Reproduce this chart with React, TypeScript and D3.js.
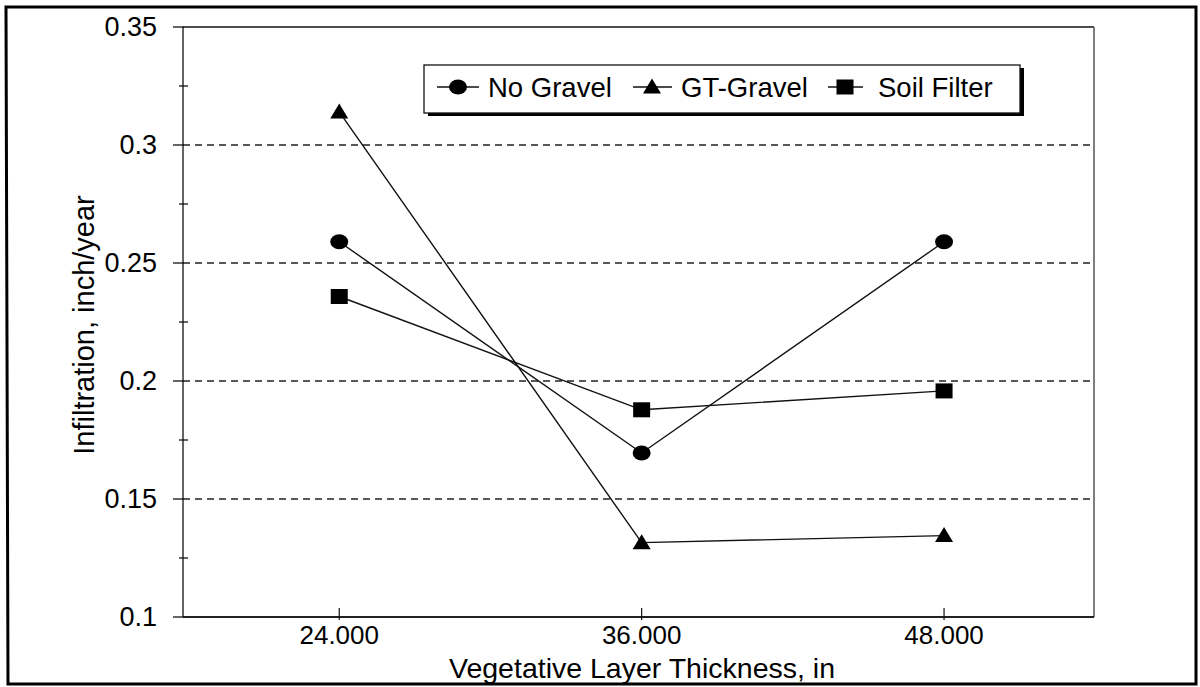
import React from "react";
import * as d3 from "d3";

const thickness = [24, 36, 48];
const xTickLabels = ["24.000", "36.000", "48.000"];
const noGravel = [0.259, 0.1695, 0.259];
const gtGravel = [0.314, 0.1315, 0.1345];
const soilFilter = [0.2358, 0.1878, 0.1958];
const yTicks = [0.1, 0.15, 0.2, 0.25, 0.3, 0.35];
const yTickLabels = ["0.1", "0.15", "0.2", "0.25", "0.3", "0.35"];
const yMinorTicks = [0.125, 0.175, 0.225, 0.275, 0.325];
const gridValues = [0.15, 0.2, 0.25, 0.3];

const seriesNames = ["No Gravel", "GT-Gravel", "Soil Filter"];
const seriesValues = [noGravel, gtGravel, soilFilter];
const seriesMarkers = ["circle", "triangle", "square"];

const FONT = "'Liberation Sans', Arial, sans-serif";

function Marker({ type, x, y }: { type: string; x: number; y: number }) {
  if (type === "circle") return <ellipse cx={x} cy={y} rx={9} ry={7.5} fill="#000" />;
  if (type === "square") return <rect x={x - 8.5} y={y - 7.5} width={17} height={15} fill="#000" />;
  return <path d={`M${x},${y - 8.5} L${x + 9},${y + 6.5} L${x - 9},${y + 6.5} Z`} fill="#000" />;
}

export default function App() {
  const W = 1200, H = 687;
  const left = 183, right = 1094, top = 27, bottom = 617;
  const x = d3.scaleLinear().domain([17.8, 53.95]).range([left, right]);
  const y = d3.scaleLinear().domain([0.1, 0.35]).range([bottom, top]);
  const line = d3.line<number>().x((_, i) => x(thickness[i])).y((d) => y(d));

  const legendItems = [
    { mx: 458, tx: 488, l1: 437, l2: 479 },
    { mx: 652, tx: 681, l1: 633, l2: 672 },
    { mx: 845, tx: 878, l1: 828, l2: 863 },
  ];

  return (
    <svg width={W} height={H} style={{ position: "absolute", left: 0, top: 0, background: "#fff" }} fontFamily={FONT}>
      <rect x={0} y={0} width={W} height={H} fill="#fff" />
      {/* outer frame */}
      <path d={`M8,684 L6,7 L1196,7 L1196,684 Z`} fill="none" stroke="#000" strokeWidth={3} />

      {/* gridlines */}
      {gridValues.map((v) => (
        <line key={v} x1={left} x2={right} y1={y(v)} y2={y(v)} stroke="#222" strokeWidth={1.3} strokeDasharray="7,5" />
      ))}

      {/* plot frame */}
      <line x1={left} x2={right} y1={top} y2={top} stroke="#111" strokeWidth={1.3} />
      <line x1={right} x2={right} y1={top} y2={bottom} stroke="#555" strokeWidth={1.5} />
      <line x1={left} x2={left} y1={top} y2={bottom} stroke="#111" strokeWidth={1.3} />
      <line x1={left} x2={right} y1={bottom} y2={bottom} stroke="#222" strokeWidth={1.8} />

      {/* y ticks */}
      {yTicks.map((v, i) => (
        <g key={v}>
          <line x1={left - 10} x2={left + 1} y1={y(v)} y2={y(v)} stroke="#111" strokeWidth={1.3} />
          <text x={157} y={y(v)} dy="0.35em" textAnchor="end" fontSize={27} fill="#000">
            {yTickLabels[i]}
          </text>
        </g>
      ))}
      {yMinorTicks.map((v) => (
        <line key={v} x1={left - 4} x2={left + 5} y1={y(v)} y2={y(v)} stroke="#111" strokeWidth={1.3} />
      ))}

      {/* x ticks */}
      {thickness.map((t, i) => (
        <g key={t}>
          <line x1={x(t)} x2={x(t)} y1={bottom - 9} y2={bottom + 3} stroke="#111" strokeWidth={1.2} />
          <text x={x(t)} y={635} dy="0.35em" textAnchor="middle" fontSize={26} fill="#000">
            {xTickLabels[i]}
          </text>
        </g>
      ))}

      {/* axis titles */}
      <text x={642} y={668} dy="0.35em" textAnchor="middle" fontSize={28.5} fill="#000">
        Vegetative Layer Thickness, in
      </text>
      <text transform={`translate(84,325) rotate(-90)`} dy="0.35em" textAnchor="middle" fontSize={29} fill="#000">
        Infiltration, inch/year
      </text>

      {/* series */}
      {seriesValues.map((vals, si) => (
        <g key={seriesNames[si]}>
          <path d={line(vals) || ""} fill="none" stroke="#111" strokeWidth={1.4} />
          {vals.map((v, i) => (
            <Marker key={i} type={seriesMarkers[si]} x={x(thickness[i])} y={y(v)} />
          ))}
        </g>
      ))}

      {/* legend */}
      <rect x={428} y={68} width={596} height={48} fill="#000" />
      <rect x={424} y={65} width={596} height={48} fill="#fff" stroke="#111" strokeWidth={1.3} />
      {legendItems.map((it, i) => (
        <g key={i}>
          <line x1={it.l1} x2={it.l2} y1={87} y2={87} stroke="#111" strokeWidth={1.4} />
          <Marker type={seriesMarkers[i]} x={it.mx} y={87} />
          <text x={it.tx} y={87} dy="0.35em" fontSize={27.5} fill="#000">
            {seriesNames[i]}
          </text>
        </g>
      ))}
    </svg>
  );
}
